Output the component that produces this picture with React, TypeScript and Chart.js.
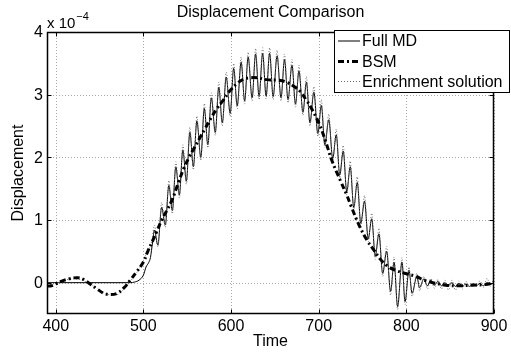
import React, { useEffect, useRef } from "react";
import { Chart, registerables } from "chart.js";

Chart.register(...registerables);

// ---- text ----
const TITLE = "Displacement Comparison";
const X_LABEL = "Time";
const Y_LABEL = "Displacement";
const Y_MULT_BASE = "x 10";
const Y_MULT_EXP = "\u22124";
const seriesNames = ["Full MD", "BSM", "Enrichment solution"];

// ---- axes ----
const xMin = 390;
const xMax = 900;
const yMin = -0.5;
const yMax = 4;
const xTicks = [400, 500, 600, 700, 800, 900];
const yTicks = [0, 1, 2, 3, 4];

// ---- data (values in units of 1e-4) ----
const fullMdTime = [390, 485, 490, 495, 500, 503, 506, 508, 510.5, 512.5, 516.5, 520.8, 525, 529, 533, 537, 541, 545, 549, 553, 557, 561, 565.5, 569.5, 573.5, 577.5, 582, 586, 590, 594.5, 599, 603, 607, 611.5, 615.5, 619.5, 624, 628, 632, 636, 640, 644, 648, 652.5, 657, 661, 665, 669.5, 673.5, 677.5, 682, 686, 690, 694.5, 699, 703, 707, 711.5, 716, 720, 724, 728, 732, 736, 740, 744, 748, 752.3, 756.5, 760.5, 764.5, 768.7, 773, 777.5, 782, 786, 790, 795, 798.5, 803, 806.5, 812, 815, 820, 824, 828, 832, 836, 840, 844, 848, 852, 856, 860, 864, 868, 872, 876, 880, 884, 888, 892, 896, 900];
const fullMdValue = [0, 0, 0.01, 0.04, 0.12, 0.25, 0.32, 0.4, 0.65, 0.84, 0.6, 1.2, 0.92, 1.55, 1.15, 1.85, 1.4, 2.12, 1.62, 2.4, 1.85, 2.58, 2.0, 2.78, 2.2, 2.95, 2.4, 3.12, 2.55, 3.28, 2.7, 3.42, 2.82, 3.52, 2.9, 3.6, 2.95, 3.65, 2.97, 3.66, 2.98, 3.66, 2.97, 3.62, 2.95, 3.56, 2.92, 3.47, 2.85, 3.38, 2.72, 3.2, 2.55, 3.04, 2.38, 2.83, 2.2, 2.6, 1.98, 2.36, 1.72, 2.1, 1.45, 1.85, 1.2, 1.6, 0.95, 1.3, 0.7, 1.02, 0.42, 0.78, 0.15, 0.5, -0.14, 0.33, -0.38, 0.33, -0.3, 0.2, -0.17, 0.1, -0.08, 0.06, -0.05, 0.04, -0.04, 0.02, -0.05, 0.0, -0.05, 0.0, -0.06, -0.01, -0.06, -0.02, -0.06, -0.02, -0.05, -0.01, -0.05, 0.0, -0.03, 0.01];

const bsmTime = [390, 395, 400, 406, 415, 425, 432, 440, 447, 455, 462, 470, 478, 485, 492, 500, 505, 510, 515, 521, 527, 533, 540, 546, 552, 558, 564, 570, 576, 584, 591, 598, 607, 615, 622, 630, 640, 654, 663, 672, 679, 686, 691, 701, 708, 715, 725, 732, 737, 746, 755, 763, 770, 778, 787, 798, 811, 820, 830, 845, 860, 875, 890, 900];
const bsmValue = [-0.05, -0.05, -0.02, 0.02, 0.06, 0.08, 0.05, -0.03, -0.1, -0.17, -0.19, -0.17, -0.08, 0.04, 0.17, 0.33, 0.5, 0.65, 0.81, 1.0, 1.16, 1.33, 1.6, 1.82, 2.0, 2.15, 2.3, 2.45, 2.6, 2.78, 2.91, 3.05, 3.18, 3.25, 3.27, 3.27, 3.24, 3.23, 3.2, 3.13, 3.05, 2.91, 2.8, 2.52, 2.25, 1.95, 1.62, 1.4, 1.22, 0.92, 0.68, 0.52, 0.38, 0.27, 0.2, 0.15, 0.1, 0.04, 0.0, -0.04, -0.05, -0.04, -0.03, 0.0];

const enrichTime = [390, 400, 410, 420, 430, 440, 450, 460, 470, 478, 485, 492, 498, 503, 507, 510, 512.5, 516.5, 520.8, 525, 529, 533, 537, 541, 545, 549, 553, 557, 561, 565.5, 569.5, 573.5, 577.5, 582, 586, 590, 594.5, 599, 603, 607, 611.5, 615.5, 619.5, 624, 628, 632, 636, 640, 644, 648, 652.5, 657, 661, 665, 669.5, 673.5, 677.5, 682, 686, 690, 694.5, 699, 703, 707, 711.5, 716, 720, 724, 728, 732, 736, 740, 744, 748, 752.3, 756.5, 760.5, 764.5, 768.7, 773, 777.5, 782, 786, 790, 795, 798.5, 803, 806.5, 812, 815, 820, 824, 828, 832, 836, 840, 844, 848, 852, 856, 860, 864, 868, 872, 876, 880, 884, 888, 892, 896, 900];
const enrichValue = [-0.04, -0.01, 0.04, 0.06, 0.04, -0.03, -0.12, -0.19, -0.19, -0.1, 0.02, 0.15, 0.3, 0.45, 0.55, 0.7, 0.92, 0.57, 1.28, 0.88, 1.63, 1.1, 1.93, 1.35, 2.2, 1.57, 2.48, 1.8, 2.66, 1.95, 2.86, 2.15, 3.03, 2.35, 3.2, 2.5, 3.36, 2.65, 3.5, 2.77, 3.6, 2.85, 3.68, 2.9, 3.74, 2.92, 3.75, 2.93, 3.75, 2.92, 3.71, 2.9, 3.65, 2.87, 3.56, 2.8, 3.47, 2.67, 3.29, 2.5, 3.13, 2.33, 2.92, 2.15, 2.69, 1.93, 2.45, 1.67, 2.19, 1.4, 1.94, 1.15, 1.69, 0.9, 1.39, 0.65, 1.11, 0.37, 0.87, 0.1, 0.58, -0.2, 0.41, -0.43, 0.4, -0.35, 0.25, -0.22, 0.15, -0.13, 0.1, -0.1, 0.07, -0.09, 0.05, -0.1, 0.04, -0.12, 0.04, -0.12, 0.03, -0.1, 0.02, -0.06, 0.0, -0.05, 0.03, -0.08, 0.07, -0.06, 0.1];

const toPoints = (t: number[], v: number[]) => t.map((x, i) => ({ x, y: v[i] }));

const FONT = '"Liberation Sans", Arial, Helvetica, sans-serif';

const styleMd = { color: "#000000", width: 1, dash: [] as number[] };
const styleBsm = { color: "#000000", width: 3, dash: [6, 3, 2, 3] };
const styleEnr = { color: "#6e6e6e", width: 1, dash: [1, 2] };

const decorPlugin = {
  id: "matlabDecor",
  beforeDatasetsDraw(chart: any) {
    const { ctx, chartArea: a, scales } = chart;
    const xs = scales.x;
    const ys = scales.y;
    ctx.save();
    ctx.strokeStyle = "#a9a9a9";
    ctx.lineWidth = 1;
    ctx.setLineDash([1, 2]);
    xTicks.forEach((v) => {
      const px = Math.round(xs.getPixelForValue(v)) + 0.5;
      ctx.beginPath();
      ctx.moveTo(px, a.top);
      ctx.lineTo(px, a.bottom);
      ctx.stroke();
    });
    yTicks.forEach((v) => {
      const py = Math.round(ys.getPixelForValue(v)) + 0.5;
      ctx.beginPath();
      ctx.moveTo(a.left, py);
      ctx.lineTo(a.right, py);
      ctx.stroke();
    });
    ctx.restore();
  },
  afterDatasetsDraw(chart: any) {
    const { ctx, chartArea: a, scales } = chart;
    const xs = scales.x;
    const ys = scales.y;
    ctx.save();
    // box
    ctx.setLineDash([]);
    ctx.strokeStyle = "#000";
    ctx.lineWidth = 1.5;
    const L = Math.round(a.left) + 0.5;
    const R = Math.round(a.right) - 0.5;
    const T = Math.round(a.top) + 0.5;
    const B = Math.round(a.bottom) - 0.5;
    ctx.strokeRect(L, T, R - L, B - T);
    // inward ticks
    ctx.lineWidth = 1;
    const tl = 4;
    xTicks.forEach((v) => {
      const px = Math.round(xs.getPixelForValue(v)) + 0.5;
      ctx.beginPath();
      ctx.moveTo(px, B);
      ctx.lineTo(px, B - tl);
      ctx.moveTo(px, T);
      ctx.lineTo(px, T + tl);
      ctx.stroke();
    });
    yTicks.forEach((v) => {
      const py = Math.round(ys.getPixelForValue(v)) + 0.5;
      ctx.beginPath();
      ctx.moveTo(L, py);
      ctx.lineTo(L + tl, py);
      ctx.moveTo(R, py);
      ctx.lineTo(R - tl, py);
      ctx.stroke();
    });
    // tick labels
    ctx.fillStyle = "#000";
    ctx.font = `16px ${FONT}`;
    ctx.textAlign = "center";
    ctx.textBaseline = "middle";
    xTicks.forEach((v) => {
      ctx.fillText(String(v), xs.getPixelForValue(v), a.bottom + 13);
    });
    ctx.textAlign = "right";
    yTicks.forEach((v) => {
      ctx.fillText(String(v), a.left - 4, ys.getPixelForValue(v) + 1);
    });
    // multiplier
    ctx.textAlign = "left";
    ctx.textBaseline = "alphabetic";
    ctx.font = `15px ${FONT}`;
    ctx.fillText(Y_MULT_BASE, a.left, a.top - 4);
    const bw = ctx.measureText(Y_MULT_BASE).width;
    ctx.font = `11px ${FONT}`;
    ctx.fillText(Y_MULT_EXP, a.left + bw + 1, a.top - 12);
    // title
    ctx.font = `16px ${FONT}`;
    ctx.textAlign = "center";
    ctx.textBaseline = "middle";
    ctx.fillText(TITLE, (a.left + a.right) / 2, 13);
    // axis labels
    ctx.fillText(X_LABEL, (a.left + a.right) / 2, 342);
    ctx.save();
    ctx.translate(19, (a.top + a.bottom) / 2);
    ctx.rotate(-Math.PI / 2);
    ctx.fillText(Y_LABEL, 0, 0);
    ctx.restore();
    // legend
    const lx = 334.5, ly = 30.5, lw = 175, lh = 62;
    ctx.fillStyle = "#fff";
    ctx.fillRect(lx, ly, lw, lh);
    ctx.strokeStyle = "#000";
    ctx.lineWidth = 1;
    ctx.strokeRect(lx, ly, lw, lh);
    const rows = [41, 61.5, 81.5];
    const styles = [styleMd, styleBsm, styleEnr];
    styles.forEach((s, i) => {
      ctx.save();
      ctx.strokeStyle = s.color;
      ctx.lineWidth = s.width;
      ctx.setLineDash(s.dash);
      ctx.beginPath();
      ctx.moveTo(338, rows[i]);
      ctx.lineTo(360, rows[i]);
      ctx.stroke();
      ctx.restore();
      ctx.fillStyle = "#000";
      ctx.font = `16px ${FONT}`;
      ctx.textAlign = "left";
      ctx.textBaseline = "middle";
      ctx.fillText(seriesNames[i], 362, rows[i] + 1);
    });
    ctx.restore();
  },
};

export default function App() {
  const ref = useRef<HTMLCanvasElement | null>(null);
  useEffect(() => {
    if (!ref.current) return;
    const chart = new Chart(ref.current, {
      type: "line",
      data: {
        datasets: [
          {
            label: seriesNames[1],
            data: toPoints(bsmTime, bsmValue),
            borderColor: styleBsm.color,
            borderWidth: styleBsm.width,
            borderDash: styleBsm.dash,
            pointRadius: 0,
            tension: 0.4,
            fill: false,
          },
          {
            label: seriesNames[2],
            data: toPoints(enrichTime, enrichValue),
            borderColor: styleEnr.color,
            borderWidth: styleEnr.width,
            borderDash: styleEnr.dash,
            pointRadius: 0,
            cubicInterpolationMode: "monotone",
            fill: false,
          },
          {
            label: seriesNames[0],
            data: toPoints(fullMdTime, fullMdValue),
            borderColor: styleMd.color,
            borderWidth: styleMd.width,
            pointRadius: 0,
            cubicInterpolationMode: "monotone",
            fill: false,
          },
        ],
      },
      options: {
        responsive: false,
        animation: false,
        events: [],
        layout: { padding: { left: 47, right: 17, top: 32, bottom: 38 } },
        plugins: { legend: { display: false }, title: { display: false }, tooltip: { enabled: false } },
        scales: {
          x: { type: "linear", min: xMin, max: xMax, display: false },
          y: { type: "linear", min: yMin, max: yMax, display: false },
        },
      },
      plugins: [decorPlugin],
    } as any);
    return () => chart.destroy();
  }, []);
  return (
    <div style={{ position: "absolute", left: 0, top: 0, width: 511, height: 352, background: "#fff" }}>
      <canvas ref={ref} width={511} height={352} style={{ display: "block" }} />
    </div>
  );
}
